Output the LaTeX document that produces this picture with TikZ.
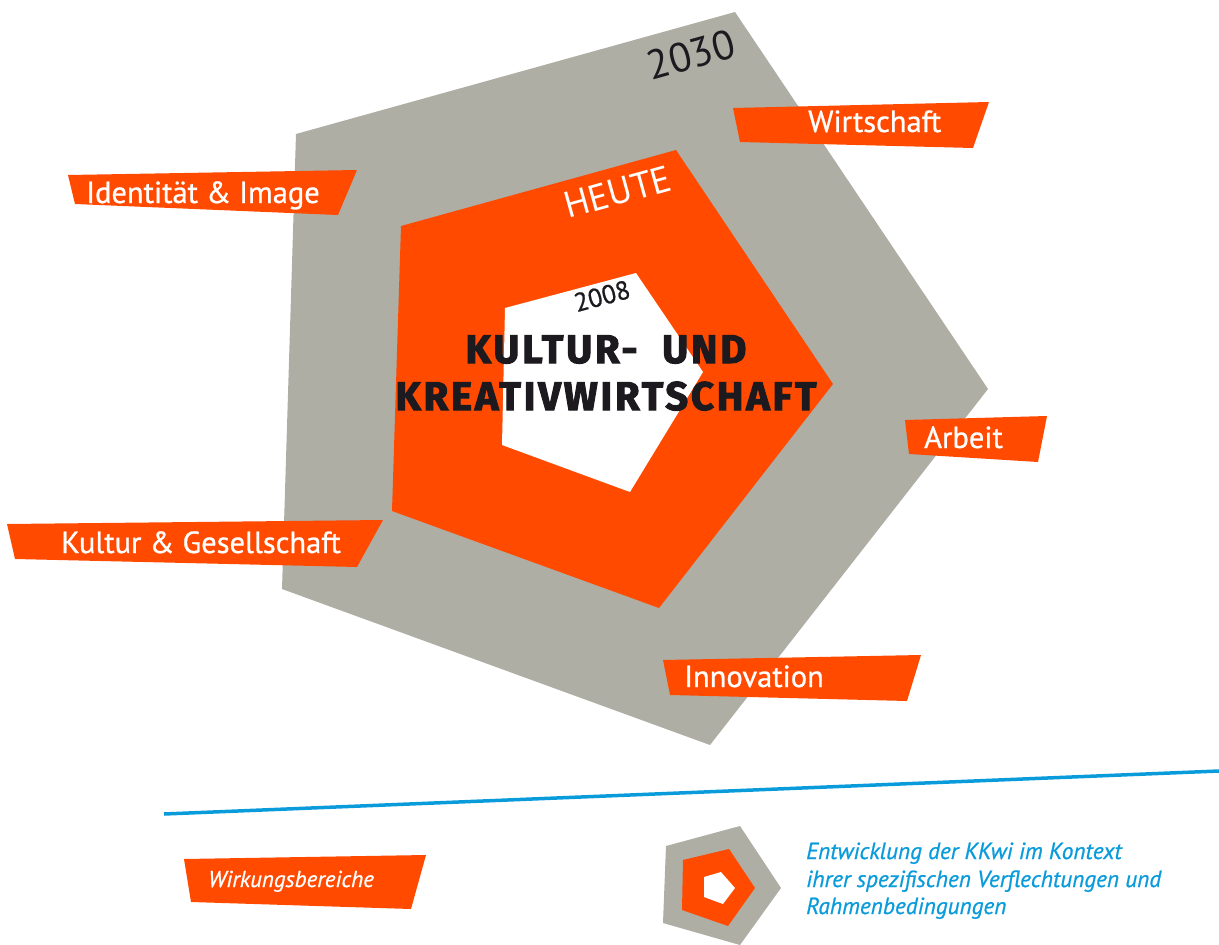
\documentclass[tikz,border=0pt]{standalone}
\usepackage{fontspec}
\setmainfont{PT Sans}
\newfontfamily\lblfont{PT Sans}[FakeBold=0.8]
\newfontfamily\titlefont{Fira Sans}[LetterSpace=7,BoldFeatures={FakeBold=2.5}]
\definecolor{kgray}{HTML}{AEAEA4}
\definecolor{korange}{HTML}{FF4A00}
\definecolor{kblue}{HTML}{0A9BDB}
\definecolor{kdark}{HTML}{1C1A1F}
\tikzset{
  tag/.style={fill=korange},
  lbl/.style={text=white, font=\lblfont\fontsize{30.5}{33}\selectfont, anchor=base west, inner sep=0pt},
  ttl/.style={text=kdark, font=\titlefont\bfseries\fontsize{40}{42}\selectfont, anchor=base, inner sep=0pt},
  leg/.style={text=kblue, font=\lblfont\itshape\fontsize{23.3}{28}\selectfont, anchor=base west, inner sep=0pt},
  yr/.style={inner sep=0pt}
}
\begin{document}
\begin{tikzpicture}[x=1pt,y=-1pt]
\useasboundingbox (0,0) rectangle (1219,945);
% pentagons
\fill[kgray] (296,134) -- (735,12) -- (988,389) -- (710,745) -- (282,589) -- cycle;
\fill[korange] (401,226) -- (676,150) -- (833,384) -- (659,608) -- (392,511) -- cycle;
\fill[white] (505,308) -- (636,273) -- (703,372) -- (630,492) -- (502,445) -- cycle;
% year labels
\node[yr, rotate=15.5, text=kdark, font=\fontsize{41}{43}\selectfont] (y2030) at (691,55) {2030};
\node[yr, rotate=15.5, text=white, font=\fontsize{37}{39}\selectfont] (heute) at (618,192) {HEUTE};
\node[yr, rotate=15, text=kdark, font=\lblfont\fontsize{26}{27}\selectfont] (y2008) at (602,296) {2008};
% title
\node[ttl] (t1) at (606,363) {KULTUR-\ \ UND};
\node[ttl] (t2) at (606,410) {KREATIVWIRTSCHAFT};
% tags
\fill[tag] (68,175) -- (357,170) -- (338,215) -- (75,204) -- cycle;
\node[lbl] (ident) at (86,203) {Identität \& Image};
\fill[tag] (733,108) -- (989,102) -- (973,148) -- (740,142) -- cycle;
\node[lbl] (wirt) at (808,132) {Wirtschaft};
\fill[tag] (7,524) -- (383,520) -- (357,567) -- (15,559) -- cycle;
\node[lbl] (kult) at (61,553) {Kultur \& Gesellschaft};
\fill[tag] (905,420) -- (1047,416) -- (1038,462) -- (909,454) -- cycle;
\node[lbl] (arb) at (924,448) {Arbeit};
\fill[tag] (663,660) -- (921,655) -- (907,701) -- (670,695) -- cycle;
\node[lbl] (inno) at (684,687) {Innovation};
% separator
\coordinate (sepL) at (164,814);
\coordinate (sepR) at (1219,771);
\draw[kblue, line width=3.5pt] (sepL) -- (sepR);
% legend
\fill[tag] (184,859) -- (426,855) -- (411,909) -- (191,902) -- cycle;
\node[lbl, font=\lblfont\itshape\fontsize{23}{26}\selectfont] (wirk) at (208,887) {Wirkungsbereiche};
\fill[kgray] (666,846) -- (740,826) -- (781,888) -- (740,945) -- (663,923) -- cycle;
\fill[korange] (683,860) -- (729,849) -- (755,888) -- (728,926) -- (682,910) -- cycle;
\fill[white] (704,877) -- (721,872) -- (735,888) -- (723,904) -- (704,897) -- cycle;
\node[leg] (l1) at (806,859) {Entwicklung der KKwi im Kontext};
\node[leg] (l2) at (806,887) {ihrer spezifischen Verflechtungen und};
\node[leg] (l3) at (806,914) {Rahmenbedingungen};
\end{tikzpicture}
\end{document}
